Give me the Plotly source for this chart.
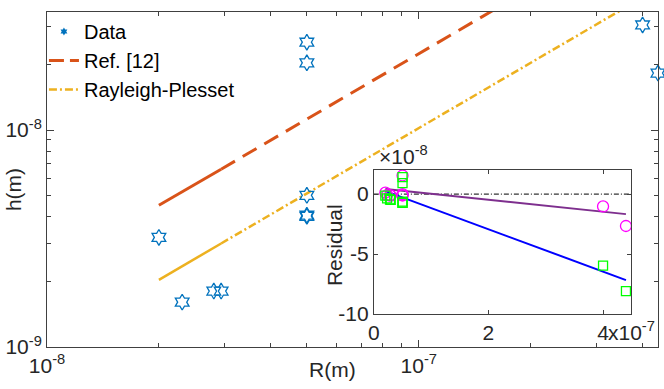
import plotly.graph_objects as go

# main panel data
R_data = [2.0e-8, 2.31e-8, 2.81e-8, 2.94e-8, 5.0e-8, 5.0e-8, 5.0e-8, 5.0e-8, 5.0e-8, 4.0e-7, 4.4e-7]
h_data = [3.2e-9, 1.61e-9, 1.81e-9, 1.81e-9, 5.0e-9, 4.0e-9, 4.05e-9, 2.54e-8, 2.04e-8, 3.05e-8, 1.83e-8]

# model curves
R_model = [2.0e-8, 2.94e-8, 4.4e-7]
h_ref12 = [4.5e-9, 6.6e-9, 9.9e-8]
h_rp = [2.04e-9, 3.0e-9, 4.49e-8]

# inset residuals (x in 1e-7 m, y in 1e-8 m)
res_x = [0.2, 0.231, 0.281, 0.294, 0.5, 0.5, 0.5, 0.5, 0.5, 4.0, 4.4]
res_rp = [0.12, -0.08, -0.1, -0.12, -0.01, -0.11, -0.1, 2.05, 1.55, -1.03, -2.66]
res_ref = [-0.13, -0.36, -0.45, -0.48, -0.63, -0.73, -0.72, 1.41, 0.91, -5.97, -8.09]
fit_x = [0.2, 4.4]
fit_rp = [0.42, -1.67]
fit_ref = [0.25, -7.17]

FONT = "Liberation Sans, Arial, sans-serif"
AX = "#404040"
TXT = "#262626"
BLUE = "#0072BD"
RED = "#D95319"
YEL = "#EDB120"
FS = 21

fig = go.Figure()

# model lines: dense part at the start looks solid in the original
fig.add_trace(go.Scatter(x=R_model[:2], y=h_ref12[:2], mode="lines", showlegend=False,
                         line=dict(color=RED, width=3)))
fig.add_trace(go.Scatter(x=R_model[1:], y=h_ref12[1:], mode="lines", showlegend=False,
                         line=dict(color=RED, width=3, dash="16px,9px")))
fig.add_trace(go.Scatter(x=R_model[:2], y=h_rp[:2], mode="lines", showlegend=False,
                         line=dict(color=YEL, width=2.5)))
fig.add_trace(go.Scatter(x=R_model[1:], y=h_rp[1:], mode="lines", showlegend=False,
                         line=dict(color=YEL, width=2.5, dash="8px,3px,2px,3px")))
fig.add_trace(go.Scatter(x=R_data, y=h_data, mode="markers", showlegend=False, cliponaxis=False,
                         marker=dict(symbol="hexagram-open", size=12, color=BLUE,
                                     line=dict(width=1.3, color=BLUE))))

# legend entries
fig.add_trace(go.Scatter(x=[None], y=[None], mode="markers", name="Data",
                         marker=dict(symbol="hexagram", size=6, color=BLUE)))
fig.add_trace(go.Scatter(x=[None], y=[None], mode="lines", name="Ref. [12]",
                         line=dict(color=RED, width=3, dash="15px,6px")))
fig.add_trace(go.Scatter(x=[None], y=[None], mode="lines", name="Rayleigh-Plesset",
                         line=dict(color=YEL, width=2.5, dash="8px,3px,2px,3px")))

# inset
fig.add_trace(go.Scatter(x=[0, 4.5], y=[0, 0], mode="lines", showlegend=False,
                         xaxis="x2", yaxis="y2", line=dict(color="black", width=1, dash="5px,2px,1px,2px")))
fig.add_trace(go.Scatter(x=fit_x, y=fit_rp, mode="lines", showlegend=False,
                         xaxis="x2", yaxis="y2", line=dict(color="#7E2F8E", width=2)))
fig.add_trace(go.Scatter(x=fit_x, y=fit_ref, mode="lines", showlegend=False,
                         xaxis="x2", yaxis="y2", line=dict(color="#0000FF", width=2)))
fig.add_trace(go.Scatter(x=res_x, y=res_rp, mode="markers", showlegend=False, cliponaxis=False,
                         xaxis="x2", yaxis="y2",
                         marker=dict(symbol="circle-open", size=11, color="#FF00FF",
                                     line=dict(width=1.3))))
fig.add_trace(go.Scatter(x=res_x, y=res_ref, mode="markers", showlegend=False, cliponaxis=False,
                         xaxis="x2", yaxis="y2",
                         marker=dict(symbol="square-open", size=9, color="#00FF00",
                                     line=dict(width=1.3))))

tickfont = dict(family=FONT, size=FS, color=TXT)

fig.update_layout(
    width=664, height=389,
    margin=dict(l=46, r=5, t=12, b=42),
    paper_bgcolor="white", plot_bgcolor="white",
    font=dict(family=FONT, size=FS, color=TXT),
    showlegend=True,
    legend=dict(x=-0.005, y=1.0, xanchor="left", yanchor="top",
                bgcolor="rgba(0,0,0,0)", borderwidth=0, itemwidth=30,
                tracegroupgap=0, font=dict(family=FONT, size=20, color="black")),
    xaxis=dict(type="log", range=[-8, -6.3565], domain=[0, 1],
               tickvals=[1e-8, 1e-7], ticktext=["10<sup>-8</sup>", "10<sup>-7</sup>"],
               ticks="inside", ticklen=7, tickcolor=AX, showline=True, linecolor=AX,
               mirror="ticks", showgrid=False, zeroline=False, tickfont=tickfont,
               minor=dict(tickmode="array",
                          tickvals=[2e-8, 3e-8, 4e-8, 5e-8, 6e-8, 7e-8, 8e-8, 9e-8, 2e-7, 3e-7, 4e-7],
                          ticks="inside", ticklen=4, tickcolor=AX, showgrid=False)),
    yaxis=dict(type="log", range=[-9, -7.456], domain=[0, 1],
               tickvals=[1e-9, 1e-8], ticktext=["10<sup>-9</sup>", "10<sup>-8</sup>"],
               ticks="inside", ticklen=7, tickcolor=AX, showline=True, linecolor=AX,
               mirror="ticks", showgrid=False, zeroline=False, tickfont=tickfont,
               minor=dict(tickmode="array",
                          tickvals=[2e-9, 3e-9, 4e-9, 5e-9, 6e-9, 7e-9, 8e-9, 9e-9, 2e-8, 3e-8],
                          ticks="inside", ticklen=4, tickcolor=AX, showgrid=False)),
    xaxis2=dict(range=[0, 4.49], domain=[0.535, 0.956], anchor="y2",
                tickvals=[0, 2, 4], ticktext=["0", "2", "4"],
                ticks="inside", ticklen=4, tickcolor=AX, showline=True, linecolor=AX,
                mirror="ticks", showgrid=False, zeroline=False, tickfont=tickfont),
    yaxis2=dict(range=[-10, 2], domain=[0.0985, 0.528], anchor="x2",
                tickvals=[-10, -5, 0], ticktext=["-10", "-5", "0"],
                ticks="inside", ticklen=4, tickcolor=AX, showline=True, linecolor=AX,
                mirror="ticks", showgrid=False, zeroline=False, tickfont=tickfont),
)

# white background behind the inset
fig.add_shape(type="rect", xref="x2 domain", yref="y2 domain", x0=0, x1=1, y0=0, y1=1,
              fillcolor="white", line=dict(width=0), layer="below")

ann = dict(showarrow=False, font=dict(family=FONT, size=FS, color=TXT))
fig.add_annotation(text="R(m)", xref="paper", yref="paper", x=(332 - 46) / 613, y=-(369 - 347) / 335,
                   xanchor="center", yanchor="middle", **ann)
fig.add_annotation(text="h(m)", xref="paper", yref="paper", x=-(46 - 13) / 613, y=(347 - 190) / 335,
                   xanchor="center", yanchor="middle", textangle=-90, **ann)
fig.add_annotation(text="Residual", xref="paper", yref="paper", x=(334 - 46) / 613, y=(347 - 245) / 335,
                   xanchor="center", yanchor="middle", textangle=-90, **ann)
fig.add_annotation(text="\u00d710<sup>-8</sup>", xref="paper", yref="paper", x=(377 - 46) / 613,
                   y=(347 - 155) / 335, xanchor="left", yanchor="middle", **ann)
fig.add_annotation(text="x10<sup>-7</sup>", xref="paper", yref="paper", x=(607 - 46) / 613,
                   y=(347 - 331) / 335, xanchor="left", yanchor="middle", **ann)

# drop the default body margin so the figure fills the window exactly
fig.write_html("out.html", config={"displayModeBar": False},
               post_script="document.body.style.margin='0';document.body.style.overflow='hidden';")
